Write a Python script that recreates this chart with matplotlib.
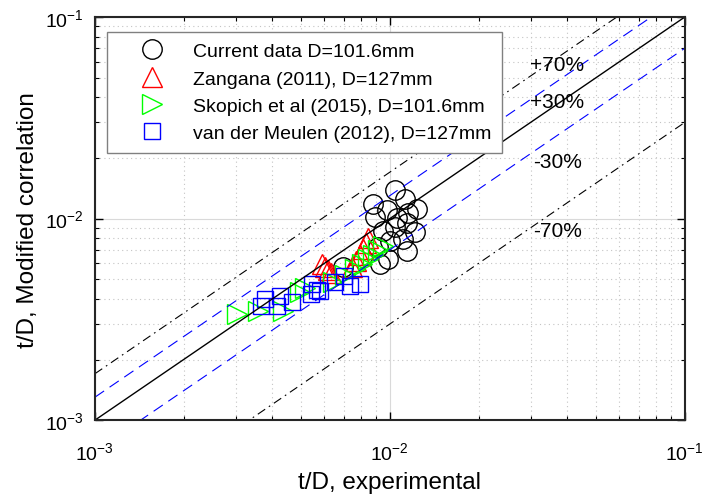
import numpy as np
import matplotlib
matplotlib.use("Agg")
import matplotlib.pyplot as plt

plt.rcParams['font.family'] = ['Liberation Sans', 'DejaVu Sans']
plt.rcParams['mathtext.fontset'] = 'custom'
plt.rcParams['mathtext.rm'] = 'Liberation Sans'
plt.rcParams['mathtext.it'] = 'Liberation Sans'
plt.rcParams['mathtext.default'] = 'regular'

# Current data D=101.6mm (experimental, modified correlation)
cur_x = [0.00876, 0.0104, 0.01124, 0.01235, 0.0089, 0.00977, 0.01056, 0.01151,
         0.00947, 0.0104, 0.01142, 0.0100, 0.01107, 0.01142, 0.00984, 0.00911,
         0.01216, 0.00693, 0.00925]
cur_y = [0.0118, 0.01385, 0.0125, 0.01115, 0.01017, 0.01102, 0.01006, 0.01065,
         0.00867, 0.00908, 0.0095, 0.00773, 0.00791, 0.0069, 0.0063, 0.00722,
         0.00857, 0.00574, 0.00595]

# Zangana (2011), D=127mm
zan_x = [0.00588, 0.00602, 0.00616, 0.00631, 0.00743, 0.00767, 0.00791, 0.0081,
         0.00829, 0.00842]
zan_y = [0.00595, 0.00574, 0.00555, 0.00537, 0.00574, 0.00615, 0.00659, 0.00706,
         0.00756, 0.0080]

# Skopich et al (2015), D=101.6mm
sko_x = [0.00303, 0.00357, 0.00434, 0.00495, 0.00515, 0.00641, 0.00704, 0.00761,
         0.00804, 0.00842, 0.00876, 0.00911, 0.00947]
sko_y = [0.00336, 0.00348, 0.00348, 0.00432, 0.00452, 0.00484, 0.00524, 0.00562,
         0.00595, 0.0063, 0.00659, 0.00698, 0.00731]

# van der Meulen (2012), D=127mm
vdm_x = [0.00365, 0.00377, 0.00414, 0.00424, 0.00465, 0.00544, 0.0054, 0.00566,
         0.00579, 0.00651, 0.00699, 0.00732, 0.00791]
vdm_y = [0.00368, 0.00399, 0.00368, 0.00413, 0.00385, 0.00473, 0.00422, 0.00442,
         0.00437, 0.00484, 0.00519, 0.00462, 0.00473]

band_factor = [1.7, 1.3, 0.7, 0.3]
band_label = ['+70%', '+30%', '-30%', '-70%']
band_label_y = [0.0584, 0.0379, 0.0193, 0.00877]
label_x = 0.0370

fig = plt.figure(figsize=(7.03, 5.02), dpi=100)
ax = fig.add_axes([0.135, 0.161, 0.839, 0.803])

ax.plot(cur_x, cur_y, 'o', ls='none', mec='k', mfc='none', ms=14, mew=1.0,
        label='Current data D=101.6mm')
ax.plot(zan_x, zan_y, '^', ls='none', mec='r', mfc='none', ms=15, mew=1.0,
        label='Zangana (2011), D=127mm')
ax.plot(sko_x, sko_y, '>', ls='none', mec='#00ff00', mfc='none', ms=15, mew=1.0,
        label='Skopich et al (2015), D=101.6mm')
ax.plot(vdm_x, vdm_y, 's', ls='none', mec='b', mfc='none', ms=11, mew=1.0,
        label='van der Meulen (2012), D=127mm')

xx = np.array([1e-3, 1e-1])
ax.plot(xx, xx, '-', color='k', lw=1.0)
ax.plot(xx, band_factor[1] * xx, color='b', lw=0.8, dashes=(10, 6))
ax.plot(xx, band_factor[2] * xx, color='b', lw=0.8, dashes=(10, 6))
ax.plot(xx, band_factor[0] * xx, color='k', lw=0.8, dashes=(8, 4, 1.5, 4))
ax.plot(xx, band_factor[3] * xx, color='k', lw=0.8, dashes=(8, 4, 1.5, 4))

for lab, ly in zip(band_label, band_label_y):
    ax.text(label_x, ly, lab, fontsize=15, ha='center', va='center')

ax.set_xscale('log')
ax.set_yscale('log')
ax.set_xlim(1e-3, 1e-1)
ax.set_ylim(1e-3, 1e-1)

ax.grid(True, which='major', color='#d9d9d9', ls='-', lw=0.8)
ax.grid(True, which='minor', color='#c4c4c4', ls=(0, (1, 3)), lw=0.8)
ax.set_axisbelow(True)
ax.tick_params(which='both', direction='in', top=True, right=True, labelsize=14)
ax.tick_params(axis='x', which='major', pad=15)
ax.tick_params(axis='y', which='major', pad=8)
ax.tick_params(which='major', length=6, width=1.0)
ax.tick_params(which='minor', length=3, width=0.8)
for s in ax.spines.values():
    s.set_linewidth(1.5)
    s.set_color('#262626')

ax.set_xlabel('t/D, experimental', fontsize=17.5, labelpad=6)
ax.set_ylabel('t/D, Modified correlation', fontsize=17.5, labelpad=4)

leg = ax.legend(loc='upper left', bbox_to_anchor=(0.02, 0.963), borderaxespad=0,
                fontsize=14, fancybox=False, framealpha=1, edgecolor='#808080',
                handlelength=3.6, handletextpad=0.3, labelspacing=0.5,
                borderpad=0.55)
leg.get_frame().set_linewidth(1.0)

fig.savefig('out.png', dpi=100)
